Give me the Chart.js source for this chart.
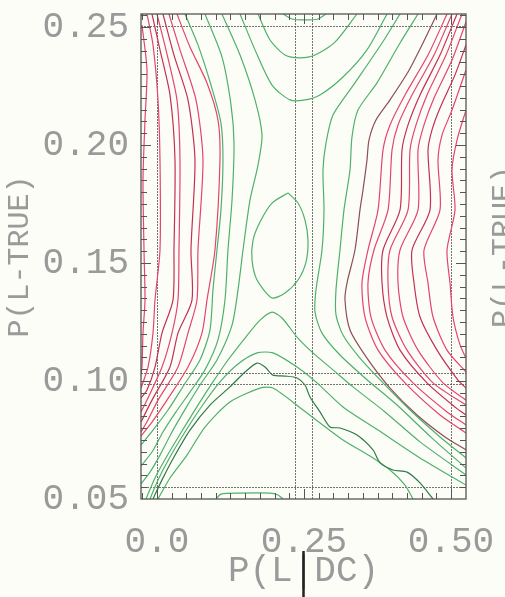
<!DOCTYPE html>
<html lang='en'>
<head>
    <meta charset='UTF-8'>
    <title>P(L-TRUE) vs P(L|DC)</title>
    <style>
        body {
            margin: 0;
            padding: 0;
            background-color: #fdfdf8;
        }
        canvas { display: block; }
    </style>
</head>
<body>
    <canvas id='contourChart' width='505' height='597'></canvas>

    <script src='https://cdn.jsdelivr.net/npm/chart.js'></script>
    <script>
        // axis ticks and labels
        const xTicks = [0, 0.25, 0.5];
        const xTickLabels = ['0.0', '0.25', '0.50'];
        const yTicks = [0.05, 0.10, 0.15, 0.20, 0.25];
        const yTickLabels = ['0.05', '0.10', '0.15', '0.20', '0.25'];

        // reference lines of the plot
        const refX = [0, 0.235, 0.264, 0.5];
        const refY = [0.0551, 0.0987, 0.1034, 0.2504];

        // contour lines, [P(L|DC), P(L-TRUE)]
        const redL1 = [[-0.0255,0.2508],[-0.0170,0.2318],[-0.0204,0.2106],[-0.0238,0.1852],[-0.0221,0.1555],[-0.0204,0.1343],[-0.0238,0.1203],[-0.0255,0.1059],[-0.0272,0.1025]];
        const redL2 = [[-0.0170,0.2555],[-0.0068,0.2424],[0.0017,0.2191],[0.0051,0.1936],[0.0051,0.1555],[-0.0034,0.1343],[-0.0068,0.1203],[-0.0153,0.1059],[-0.0272,0.0970]];
        const redL3 = [[-0.0085,0.2555],[0.0051,0.2403],[0.0221,0.2212],[0.0306,0.1936],[0.0289,0.1555],[0.0272,0.1343],[0.0085,0.1203],[-0.0034,0.1059],[-0.0170,0.0962],[-0.0272,0.0928]];
        const redL4 = [[0,0.2555],[0.0153,0.2403],[0.0340,0.2191],[0.0391,0.1936],[0.0374,0.1555],[0.0357,0.1343],[0.0255,0.1203],[0.0085,0.1059],[-0.0170,0.0919],[-0.0272,0.0869]];
        const redL5 = [[0.0102,0.2555],[0.0289,0.2381],[0.0527,0.2191],[0.0646,0.1936],[0.0578,0.1555],[0.0595,0.1343],[0.0357,0.1203],[0.0221,0.1059],[-0.0085,0.0919],[-0.0272,0.0826]];
        const redL6 = [[0.0204,0.2555],[0.0391,0.2403],[0.0663,0.2191],[0.0782,0.1936],[0.0697,0.1555],[0.0680,0.1343],[0.0527,0.1203],[0.0357,0.1059],[0.0017,0.0919],[-0.0153,0.0835],[-0.0272,0.0784]];
        const redL7 = [[0.0340,0.2555],[0.0561,0.2415],[0.0850,0.2263],[0.1037,0.2106],[0.1071,0.1936],[0.0986,0.1555],[0.0850,0.1343],[0.0765,0.1203],[0.0527,0.1059],[0.0170,0.0919],[-0.0085,0.0826],[-0.0272,0.0767]];

        const redR1 = [[0.4932,0.2555],[0.4609,0.2381],[0.4218,0.2212],[0.3963,0.2085],[0.3844,0.1979],[0.3759,0.1725],[0.3588,0.1555],[0.3486,0.1415],[0.3537,0.1271],[0.3759,0.1131],[0.4218,0.0992],[0.4813,0.0856],[0.5255,0.0780]];
        const redR2 = [[0.5017,0.2555],[0.4711,0.2381],[0.4337,0.2212],[0.4099,0.2085],[0.3997,0.1979],[0.3929,0.1725],[0.3690,0.1555],[0.3588,0.1415],[0.3639,0.1271],[0.3878,0.1131],[0.4354,0.0992],[0.4932,0.0869],[0.5255,0.0814]];
        const redR3 = [[0.5102,0.2555],[0.4813,0.2381],[0.4473,0.2212],[0.4269,0.2085],[0.4167,0.1979],[0.4133,0.1725],[0.3844,0.1555],[0.3827,0.1415],[0.3912,0.1271],[0.4133,0.1131],[0.4592,0.0992],[0.5085,0.0886],[0.5255,0.0856]];
        const redR4 = [[0.5187,0.2555],[0.4915,0.2381],[0.4592,0.2212],[0.4405,0.2085],[0.4303,0.1979],[0.4269,0.1725],[0.3963,0.1555],[0.3929,0.1415],[0.3997,0.1271],[0.4252,0.1131],[0.4694,0.0992],[0.5255,0.0898]];
        const redR5 = [[0.5255,0.2521],[0.5017,0.2360],[0.4711,0.2199],[0.4541,0.2085],[0.4439,0.1979],[0.4439,0.1725],[0.4133,0.1555],[0.4099,0.1415],[0.4184,0.1271],[0.4439,0.1131],[0.4864,0.0992],[0.5255,0.0919]];
        const redR6 = [[0.5255,0.2424],[0.5068,0.2297],[0.4813,0.2157],[0.4677,0.2064],[0.4609,0.1979],[0.4643,0.1725],[0.4337,0.1555],[0.4371,0.1415],[0.4473,0.1271],[0.4762,0.1131],[0.5119,0.1004],[0.5255,0.0970]];
        const redR7 = [[0.5255,0.2318],[0.5017,0.2148],[0.4847,0.2042],[0.4779,0.1936],[0.4813,0.1725],[0.4541,0.1555],[0.4609,0.1415],[0.4694,0.1271],[0.4932,0.1131],[0.5255,0.1038]];
        const redR8 = [[0.5255,0.2148],[0.5102,0.2021],[0.5017,0.1894],[0.5068,0.1725],[0.4932,0.1555],[0.4983,0.1415],[0.5034,0.1271],[0.5153,0.1153],[0.5255,0.1097]];
        const brownR0 = [[0.4762,0.2555],[0.4507,0.2424],[0.4269,0.2309],[0.3963,0.2191],[0.3724,0.2106],[0.3605,0.2021],[0.3571,0.1936],[0.3503,0.1809],[0.3452,0.1725],[0.3367,0.1555],[0.3231,0.1415],[0.3197,0.1343],[0.3282,0.1216],[0.3571,0.1097],[0.3963,0.0970],[0.4422,0.0856],[0.4898,0.0763],[0.5255,0.0708]];

        const greenA = [[0.0476,0.2555],[0.0697,0.2424],[0.0918,0.2254],[0.1088,0.2093],[0.1122,0.1936],[0.1088,0.1725],[0.1020,0.1555],[0.0952,0.1386],[0.0901,0.1216],[0.0731,0.1089],[0.0459,0.0983],[0.0187,0.0877],[-0.0068,0.0792],[-0.0272,0.0729]];
        const greenB = [[0.0816,0.2555],[0.1105,0.2373],[0.1259,0.2169],[0.1310,0.2008],[0.1276,0.1767],[0.1207,0.1555],[0.1156,0.1343],[0.1037,0.1174],[0.0816,0.1047],[0.0561,0.0953],[0.0323,0.0869],[0.0102,0.0784],[-0.0085,0.0699],[-0.0272,0.0640]];
        const greenC = [[0.1105,0.2555],[0.1412,0.2381],[0.1667,0.2191],[0.1786,0.2042],[0.1718,0.1915],[0.1582,0.1767],[0.1463,0.1555],[0.1378,0.1386],[0.1276,0.1237],[0.1020,0.1089],[0.0731,0.0983],[0.0493,0.0886],[0.0255,0.0784],[0.0051,0.0686],[-0.0119,0.0614],[-0.0272,0.0564]];
        const greenRC = [[0.4133,0.2555],[0.3827,0.2432],[0.3367,0.2263],[0.2993,0.2127],[0.2874,0.2008],[0.2823,0.1894],[0.2840,0.1725],[0.2806,0.1555],[0.2704,0.1386],[0.2687,0.1292],[0.2806,0.1203],[0.3112,0.1110],[0.3537,0.1013],[0.4082,0.0898],[0.4677,0.0758],[0.5255,0.0631]];
        const greenRB = [[0.4439,0.2555],[0.4133,0.2432],[0.3741,0.2263],[0.3418,0.2148],[0.3316,0.2034],[0.3282,0.1894],[0.3180,0.1725],[0.3112,0.1555],[0.3044,0.1386],[0.3044,0.1280],[0.3163,0.1195],[0.3452,0.1097],[0.3844,0.0992],[0.4303,0.0877],[0.4813,0.0763],[0.5255,0.0674]];

        const valley0 = [[0.2143,0.2555],[0.2296,0.2534],[0.2517,0.2530],[0.2738,0.2534],[0.2874,0.2555]];
        const valley1 = [[0.1718,0.2555],[0.1922,0.2445],[0.2177,0.2381],[0.2432,0.2369],[0.2687,0.2381],[0.3027,0.2436],[0.3401,0.2555]];
        const valley2 = [[0.1412,0.2555],[0.1667,0.2403],[0.1956,0.2254],[0.2262,0.2191],[0.2517,0.2191],[0.2772,0.2212],[0.3163,0.2288],[0.3571,0.2403],[0.3912,0.2555]];
        const oval = [[0.2228,0.1797],[0.1956,0.1754],[0.1752,0.1674],[0.1633,0.1597],[0.1616,0.1513],[0.1701,0.1428],[0.1956,0.1352],[0.2177,0.1373],[0.2398,0.1428],[0.2534,0.1504],[0.2568,0.1597],[0.2517,0.1682],[0.2398,0.1754],[0.2228,0.1797]];

        const hill4 = [[-0.0187,0.0500],[-0.0034,0.0589],[0.0170,0.0682],[0.0425,0.0788],[0.0697,0.0898],[0.0952,0.0996],[0.1207,0.1089],[0.1497,0.1182],[0.1752,0.1258],[0.1956,0.1292],[0.2126,0.1267],[0.2381,0.1186],[0.2653,0.1119],[0.2993,0.1047],[0.3333,0.0975],[0.3878,0.0869],[0.4473,0.0742],[0.5255,0.0602]];
        const hill3 = [[-0.0119,0.0500],[0.0017,0.0581],[0.0221,0.0678],[0.0476,0.0784],[0.0765,0.0894],[0.1071,0.0996],[0.1378,0.1072],[0.1701,0.1119],[0.1973,0.1119],[0.2381,0.1059],[0.2721,0.0992],[0.3163,0.0890],[0.3759,0.0792],[0.4473,0.0674],[0.5255,0.0559]];
        const hill2 = [[-0.0068,0.0500],[0.0085,0.0581],[0.0289,0.0678],[0.0561,0.0792],[0.0901,0.0898],[0.1241,0.0975],[0.1497,0.1038],[0.1701,0.1076],[0.1837,0.1059],[0.1973,0.1025],[0.2177,0.1021],[0.2381,0.1013],[0.2517,0.0983],[0.2602,0.0932],[0.2772,0.0869],[0.2942,0.0805],[0.3112,0.0801],[0.3401,0.0771],[0.3673,0.0708],[0.3793,0.0653],[0.4014,0.0623],[0.4252,0.0614],[0.4473,0.0568],[0.4694,0.0500]];
        const hill1 = [[0.0017,0.0500],[0.0221,0.0589],[0.0510,0.0686],[0.0816,0.0805],[0.1241,0.0911],[0.1752,0.0970],[0.1973,0.0970],[0.2483,0.0877],[0.3163,0.0750],[0.3622,0.0682],[0.3963,0.0623],[0.4218,0.0559],[0.4354,0.0500]];
        const hill0 = [[0.1003,0.0500],[0.1088,0.0521],[0.1412,0.0525],[0.1922,0.0525],[0.2058,0.0517],[0.2143,0.0500]];

        const RED = '#e4456c';
        const RED_DARK = '#c4304f';
        const GREEN = '#4fb06c';
        const GREEN_DARK = '#2f7a47';
        const BROWN = '#8c4e58';
        const TEXT = '#9a9a9a';
        const FONT = 'Liberation Mono';
        const X_TITLE = 'P(L|DC)';

        const lines = [
            [greenA, GREEN], [greenB, GREEN], [greenC, GREEN], [greenRC, GREEN], [greenRB, GREEN],
            [valley0, GREEN], [valley1, GREEN], [valley2, GREEN], [oval, GREEN],
            [hill4, GREEN], [hill3, GREEN], [hill2, GREEN_DARK], [hill1, GREEN], [hill0, GREEN],
            [redL1, RED], [redL2, RED], [redL3, RED_DARK], [redL4, RED], [redL5, RED_DARK], [redL6, RED], [redL7, RED],
            [brownR0, BROWN], [redR1, RED], [redR2, RED], [redR3, RED_DARK], [redR4, RED], [redR5, RED],
            [redR6, RED_DARK], [redR7, RED], [redR8, RED]
        ];

        const datasets = lines.map(([pts, color]) => ({
            data: pts.map(([x, y]) => ({ x: x, y: y })),
            showLine: true,
            borderColor: color,
            borderWidth: 1.2,
            pointRadius: 0,
            tension: 0.25,
            fill: false
        }));

        function hline(ctx, x0, x1, y) { ctx.beginPath(); ctx.moveTo(x0, y); ctx.lineTo(x1, y); ctx.stroke(); }
        function vline(ctx, x, y0, y1) { ctx.beginPath(); ctx.moveTo(x, y0); ctx.lineTo(x, y1); ctx.stroke(); }

        const framePlugin = {
            id: 'frame',
            beforeDraw(chart) {
                const ctx = chart.ctx;
                ctx.save();
                ctx.fillStyle = '#fdfdf8';
                ctx.fillRect(0, 0, chart.width, chart.height);
                // label of the next panel, cut off at the right edge
                ctx.fillStyle = TEXT;
                ctx.font = '30px "' + FONT + '"';
                ctx.translate(504, 247);
                ctx.rotate(-Math.PI / 2);
                ctx.textAlign = 'center';
                ctx.textBaseline = 'middle';
                ctx.fillText('P(L-TRUE)', 0, 0);
                ctx.restore();
            },
            beforeDatasetsDraw(chart) {
                const { ctx, chartArea: a, scales: { x, y } } = chart;
                ctx.save();
                ctx.strokeStyle = 'rgba(80,80,80,0.8)';
                ctx.lineWidth = 1;
                ctx.setLineDash([2, 1]);
                refX.forEach(v => vline(ctx, Math.round(x.getPixelForValue(v)) + 0.5, a.top, a.bottom));
                refY.forEach(v => hline(ctx, a.left, a.right, Math.round(y.getPixelForValue(v)) + 0.5));
                ctx.restore();
            },
            afterDatasetsDraw(chart) {
                const { ctx, chartArea: a, scales: { x, y } } = chart;
                ctx.save();
                ctx.strokeStyle = '#555';
                ctx.lineWidth = 1.3;
                ctx.strokeRect(a.left, a.top, a.right - a.left, a.bottom - a.top);
                ctx.lineWidth = 1;
                for (let i = -1; i <= 21; i++) {
                    const v = i * 0.025;
                    const px = Math.round(x.getPixelForValue(v)) + 0.5;
                    if (px <= a.left || px >= a.right) continue;
                    const len = (i % 10 === 0) ? 10 : 6;
                    vline(ctx, px, a.top, a.top + len);
                    vline(ctx, px, a.bottom, a.bottom - len);
                }
                for (let i = 10; i <= 51; i++) {
                    const v = i * 0.005;
                    const py = Math.round(y.getPixelForValue(v)) + 0.5;
                    if (py <= a.top || py >= a.bottom) continue;
                    const len = (i % 10 === 0) ? 10 : 6;
                    hline(ctx, a.left, a.left + len, py);
                    hline(ctx, a.right, a.right - len, py);
                }
                ctx.restore();
            },
            afterDraw(chart) {
                // the bar of the x title is drawn in black and runs down past the text
                const { ctx, scales: { x } } = chart;
                ctx.save();
                ctx.font = '36px "' + FONT + '"';
                const total = ctx.measureText(X_TITLE).width;
                const before = ctx.measureText(X_TITLE.slice(0, X_TITLE.indexOf('|'))).width;
                const bar = ctx.measureText('|').width;
                const px = (x.left + x.right) / 2 - total / 2 + before + bar / 2;
                ctx.strokeStyle = '#222';
                ctx.lineWidth = 2.5;
                vline(ctx, px, 551, 597);
                ctx.restore();
            }
        };

        const ctx = document.getElementById('contourChart').getContext('2d');
        new Chart(ctx, {
            type: 'scatter',
            data: { datasets: datasets },
            options: {
                responsive: false,
                animation: false,
                layout: { padding: { top: 14, right: 39, left: 0, bottom: 0 } },
                plugins: {
                    legend: { display: false },
                    tooltip: { enabled: false }
                },
                scales: {
                    x: {
                        type: 'linear',
                        min: -0.0272,
                        max: 0.5255,
                        afterBuildTicks: s => { s.ticks = xTicks.map(v => ({ value: v })); },
                        afterFit: s => {
                            s.height = 98;
                            s.paddingLeft = 0;
                            s.paddingRight = 0;
                        },
                        grid: { display: false, drawTicks: false },
                        border: { display: false },
                        ticks: {
                            autoSkip: false,
                            maxRotation: 0,
                            padding: 22,
                            color: TEXT,
                            font: { family: FONT, size: 36 },
                            callback: (v, i) => xTickLabels[i]
                        },
                        title: {
                            display: true,
                            text: X_TITLE,
                            color: TEXT,
                            font: { family: FONT, size: 36 },
                            padding: { top: 4, bottom: 4 }
                        }
                    },
                    y: {
                        type: 'linear',
                        min: 0.05,
                        max: 0.2555,
                        afterBuildTicks: s => { s.ticks = yTicks.map(v => ({ value: v })); },
                        afterFit: s => {
                            s.width = 141;
                            s.paddingTop = 0;
                            s.paddingBottom = 0;
                        },
                        grid: { display: false, drawTicks: false },
                        border: { display: false },
                        ticks: {
                            autoSkip: false,
                            padding: 12,
                            color: TEXT,
                            font: { family: FONT, size: 36 },
                            callback: (v, i) => yTickLabels[i]
                        },
                        title: {
                            display: true,
                            text: 'P(L-TRUE)',
                            color: TEXT,
                            font: { family: FONT, size: 30 },
                            padding: { top: 2, bottom: 2 }
                        }
                    }
                }
            },
            plugins: [framePlugin]
        });
    </script>
</body>
</html>
